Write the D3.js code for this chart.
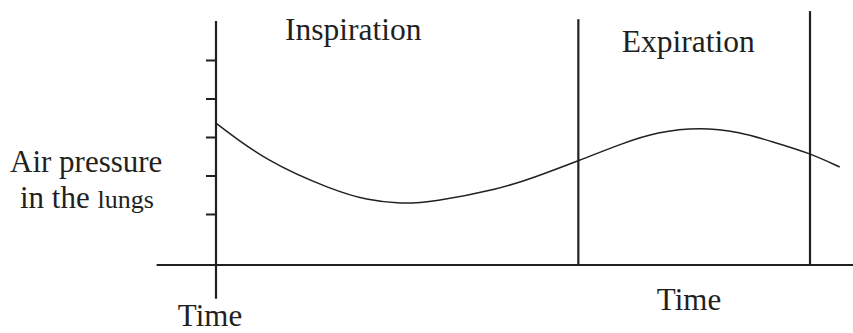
<!DOCTYPE html>
<html>
<head>
<meta charset="utf-8">
<script src="https://cdn.jsdelivr.net/npm/d3@7"></script>
<style>
body { margin: 0; background: #fff; }
svg text { font-family: "Liberation Serif", "Times New Roman", serif; fill: #231f20; }
</style>
</head>
<body>
<svg id="chart" width="853" height="333"></svg>
<script>

/// curve: time (arbitrary units) vs air pressure in the lungs
var times     = [0, 0.86, 1.97, 2.54, 3.10, 3.65, 4.78, 5.34, 6.13, 6.85, 7.42, 8.15, 8.82, 9.38, 10.0, 10.5];
var pressures = [3.36, 2.35, 1.62, 1.36, 1.26, 1.31, 1.65, 1.94, 2.40, 2.84, 3.13, 3.26, 3.13, 2.87, 2.58, 2.22];

/// phase boundaries (time) and how high each line goes (pressure units)
var phaseBounds = [6.1, 10.0];
var phaseTops   = [6.06, 6.27];
var phaseNames  = ["Inspiration", "Expiration"];
var phaseLabelAt = [2.31, 7.95];

var yTicks = [1, 2, 3, 4, 5];

var data = times.map(function(t, i) { return {t: t, p: pressures[i]}; });

var svg = d3.select("#chart");

var x = d3.scaleLinear().domain([0, 10]).range([216, 810]);
var y = d3.scaleLinear().domain([-0.325, 6.558]).range([265, 0]);

var ink = "#231f20";

/// baseline (time axis)
svg.append("line")
    .attr("x1", x(-1)).attr("x2", 853)
    .attr("y1", y(-0.325)).attr("y2", y(-0.325))
    .attr("stroke", ink).attr("stroke-width", 2.2);

/// pressure axis, no labels
svg.append("line")
    .attr("x1", x(0)).attr("x2", x(0))
    .attr("y1", y(6.01)).attr("y2", y(-1.2))
    .attr("stroke", ink).attr("stroke-width", 2.2);

var yAxis = d3.axisLeft(y).tickValues(yTicks).tickFormat("").tickSize(10).tickSizeOuter(0);
var ya = svg.append("g")
    .attr("transform", "translate(" + x(0) + ",0)")
    .call(yAxis);
ya.select(".domain").remove();
ya.selectAll("line").attr("stroke", ink).attr("stroke-width", 2);

/// phase boundaries
svg.selectAll(".phase")
    .data(phaseBounds)
  .enter().append("line")
    .attr("class", "phase")
    .attr("x1", function(d) { return x(d); })
    .attr("x2", function(d) { return x(d); })
    .attr("y1", function(d, i) { return y(phaseTops[i]); })
    .attr("y2", y(-0.325))
    .attr("stroke", ink).attr("stroke-width", 2.2);

/// the curve
var line = d3.line()
    .x(function(d) { return x(d.t); })
    .y(function(d) { return y(d.p); })
    .curve(d3.curveBasis);

svg.append("path")
    .datum(data)
    .attr("d", line)
    .attr("fill", "none")
    .attr("stroke", ink)
    .attr("stroke-width", 1.5);

/// labels
svg.selectAll(".phaseLabel")
    .data(phaseNames)
  .enter().append("text")
    .attr("class", "phaseLabel")
    .attr("x", function(d, i) { return x(phaseLabelAt[i]); })
    .attr("y", function(d, i) { return i == 0 ? 40 : 52; })
    .attr("text-anchor", "middle")
    .style("font-size", "31.5px")
    .text(function(d) { return d; });

svg.append("text")
    .attr("x", 689).attr("y", 310)
    .attr("text-anchor", "middle")
    .style("font-size", "31px")
    .text("Time");

svg.append("text")
    .attr("x", 210).attr("y", 326)
    .attr("text-anchor", "middle")
    .style("font-size", "31px")
    .text("Time");

svg.append("text")
    .attr("x", 10).attr("y", 172)
    .style("font-size", "31px")
    .text("Air pressure");

var t2 = svg.append("text")
    .attr("x", 20).attr("y", 208)
    .style("font-size", "31px");
t2.append("tspan").text("in the ");
t2.append("tspan").style("font-size", "26px").text("lungs");

</script>
</body>
</html>
